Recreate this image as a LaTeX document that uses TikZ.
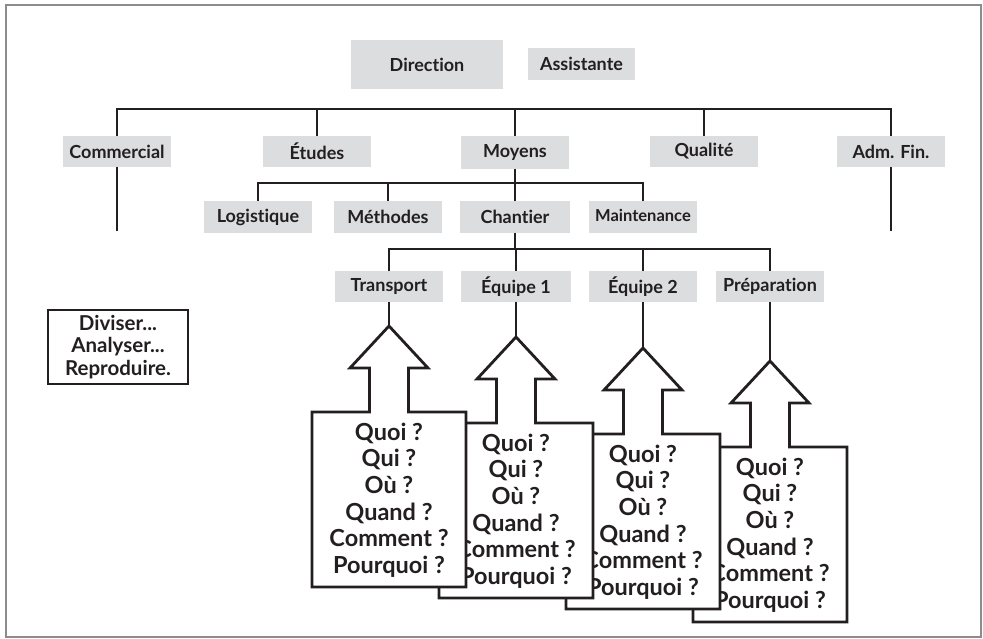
\documentclass[tikz,border=0pt]{standalone}
\usepackage{fontspec}
\setmainfont{Lato}[Ligatures={NoCommon,NoRare,NoContextual}]
\definecolor{ink}{HTML}{231F20}
\definecolor{boxgray}{HTML}{DCDDDE}
\definecolor{framegray}{HTML}{8C8C8C}
\begin{document}
\begin{tikzpicture}[x=1pt,y=-1pt,
  lbl/.style={fill=boxgray, inner sep=0pt, minimum width=108pt, minimum height=31pt,
    text=ink, font=\bfseries\fontsize{18}{21}\selectfont},
  link/.style={draw=ink, line width=2.8pt},
  qbox/.style={draw=ink, fill=white, line width=2.8pt, line join=miter},
  qtext/.style={text=ink, align=center, inner sep=0pt,
    font=\bfseries\fontsize{23.5}{26.6}\selectfont},
  note/.style={draw=ink, line width=2.8pt, inner sep=0pt, minimum width=140pt,
    minimum height=74pt, align=center, text=ink,
    font=\bfseries\fontsize{20.5}{22.5}\selectfont}]
\useasboundingbox (0,0) rectangle (983,638);
\draw[framegray, line width=2pt] (6,5) rectangle (981,637);

% top level
\node[lbl, minimum width=152pt, minimum height=49pt] (dir) at (427,64.5) {Direction};
\node[lbl, minimum width=107pt, minimum height=32pt] (ass) at (581.5,64) {Assistante};

% departments
\node[lbl] (com) at (117,151.5) {Commercial};
\node[lbl] (etu) at (317,151.5) {Études};
\node[lbl, minimum height=33pt] (moy) at (515,152.5) {Moyens};
\node[lbl] (qua) at (704,151.5) {Qualité};
\node[lbl] (adm) at (891,151.5) {Adm. Fin.};

\draw[link] (com.north) -- (com.north |- 0,109) -- (adm.north |- 0,109) -- (adm.north);
\foreach \n in {etu,moy,qua} \draw[link] (\n.north) -- (\n.north |- 0,109);
\coordinate (comend) at (117,231);
\coordinate (admend) at (891,231);
\draw[link] (com.south) -- (comend);
\draw[link] (adm.south) -- (admend);

% services under Moyens
\node[lbl, minimum height=32pt] (log) at (258,217) {Logistique};
\node[lbl, minimum height=32pt] (met) at (388,217) {Méthodes};
\node[lbl, minimum height=32pt, minimum width=110pt] (cha) at (515,217) {Chantier};
\node[lbl, minimum height=32pt, font=\bfseries\fontsize{16.5}{19}\selectfont,
  text depth=3pt] (mai) at (643,217) {Maintenance};

\draw[link] (moy.south) -- (cha.north);
\draw[link] (log.north) -- (log.north |- 0,183) -- (mai.north |- 0,183) -- (mai.north);
\draw[link] (met.north) -- (met.north |- 0,183);

% teams under Chantier
\node[lbl] (tra) at (389,286.5) {Transport};
\node[lbl, minimum width=110pt] (eq1) at (516,286.5) {Équipe 1};
\node[lbl] (eq2) at (643,286.5) {Équipe 2};
\node[lbl] (pre) at (770,286.5) {Préparation};

\draw[link] (cha.south) -- (cha.south |- 0,249);
\draw[link] (tra.north) -- (tra.north |- 0,249) -- (pre.north |- 0,249) -- (pre.north);
\foreach \n in {eq1,eq2} \draw[link] (\n.north) -- (\n.north |- 0,249);

% question sheets, each with an arrow pointing up to its team
\foreach \i/\ax/\ay in {4/770/361, 3/643/348, 2/516/337, 1/389/326} {
  \coordinate (tip\i) at (\ax,\ay);
  \draw[qbox] (tip\i) -- ++(39,42) -- ++(-19.5,0) -- ++(0,44) -- ++(57.5,0)
    -- ++(0,175) -- ++(-154,0) -- ++(0,-175) -- ++(57.5,0) -- ++(0,-44)
    -- ++(-19.5,0) -- cycle;
  \node[qtext] (q\i) at (\ax,\ay+174)
    {Quoi ?\\Qui ?\\Où ?\\Quand ?\\Comment ?\\Pourquoi ?};
}
\draw[link] (tra.south) -- (tip1);
\draw[link] (eq1.south) -- (tip2);
\draw[link] (eq2.south) -- (tip3);
\draw[link] (pre.south) -- (tip4);

% motto box
\node[note] (motto) at (118,347) {Diviser...\\Analyser...\\Reproduire.};
\end{tikzpicture}
\end{document}
